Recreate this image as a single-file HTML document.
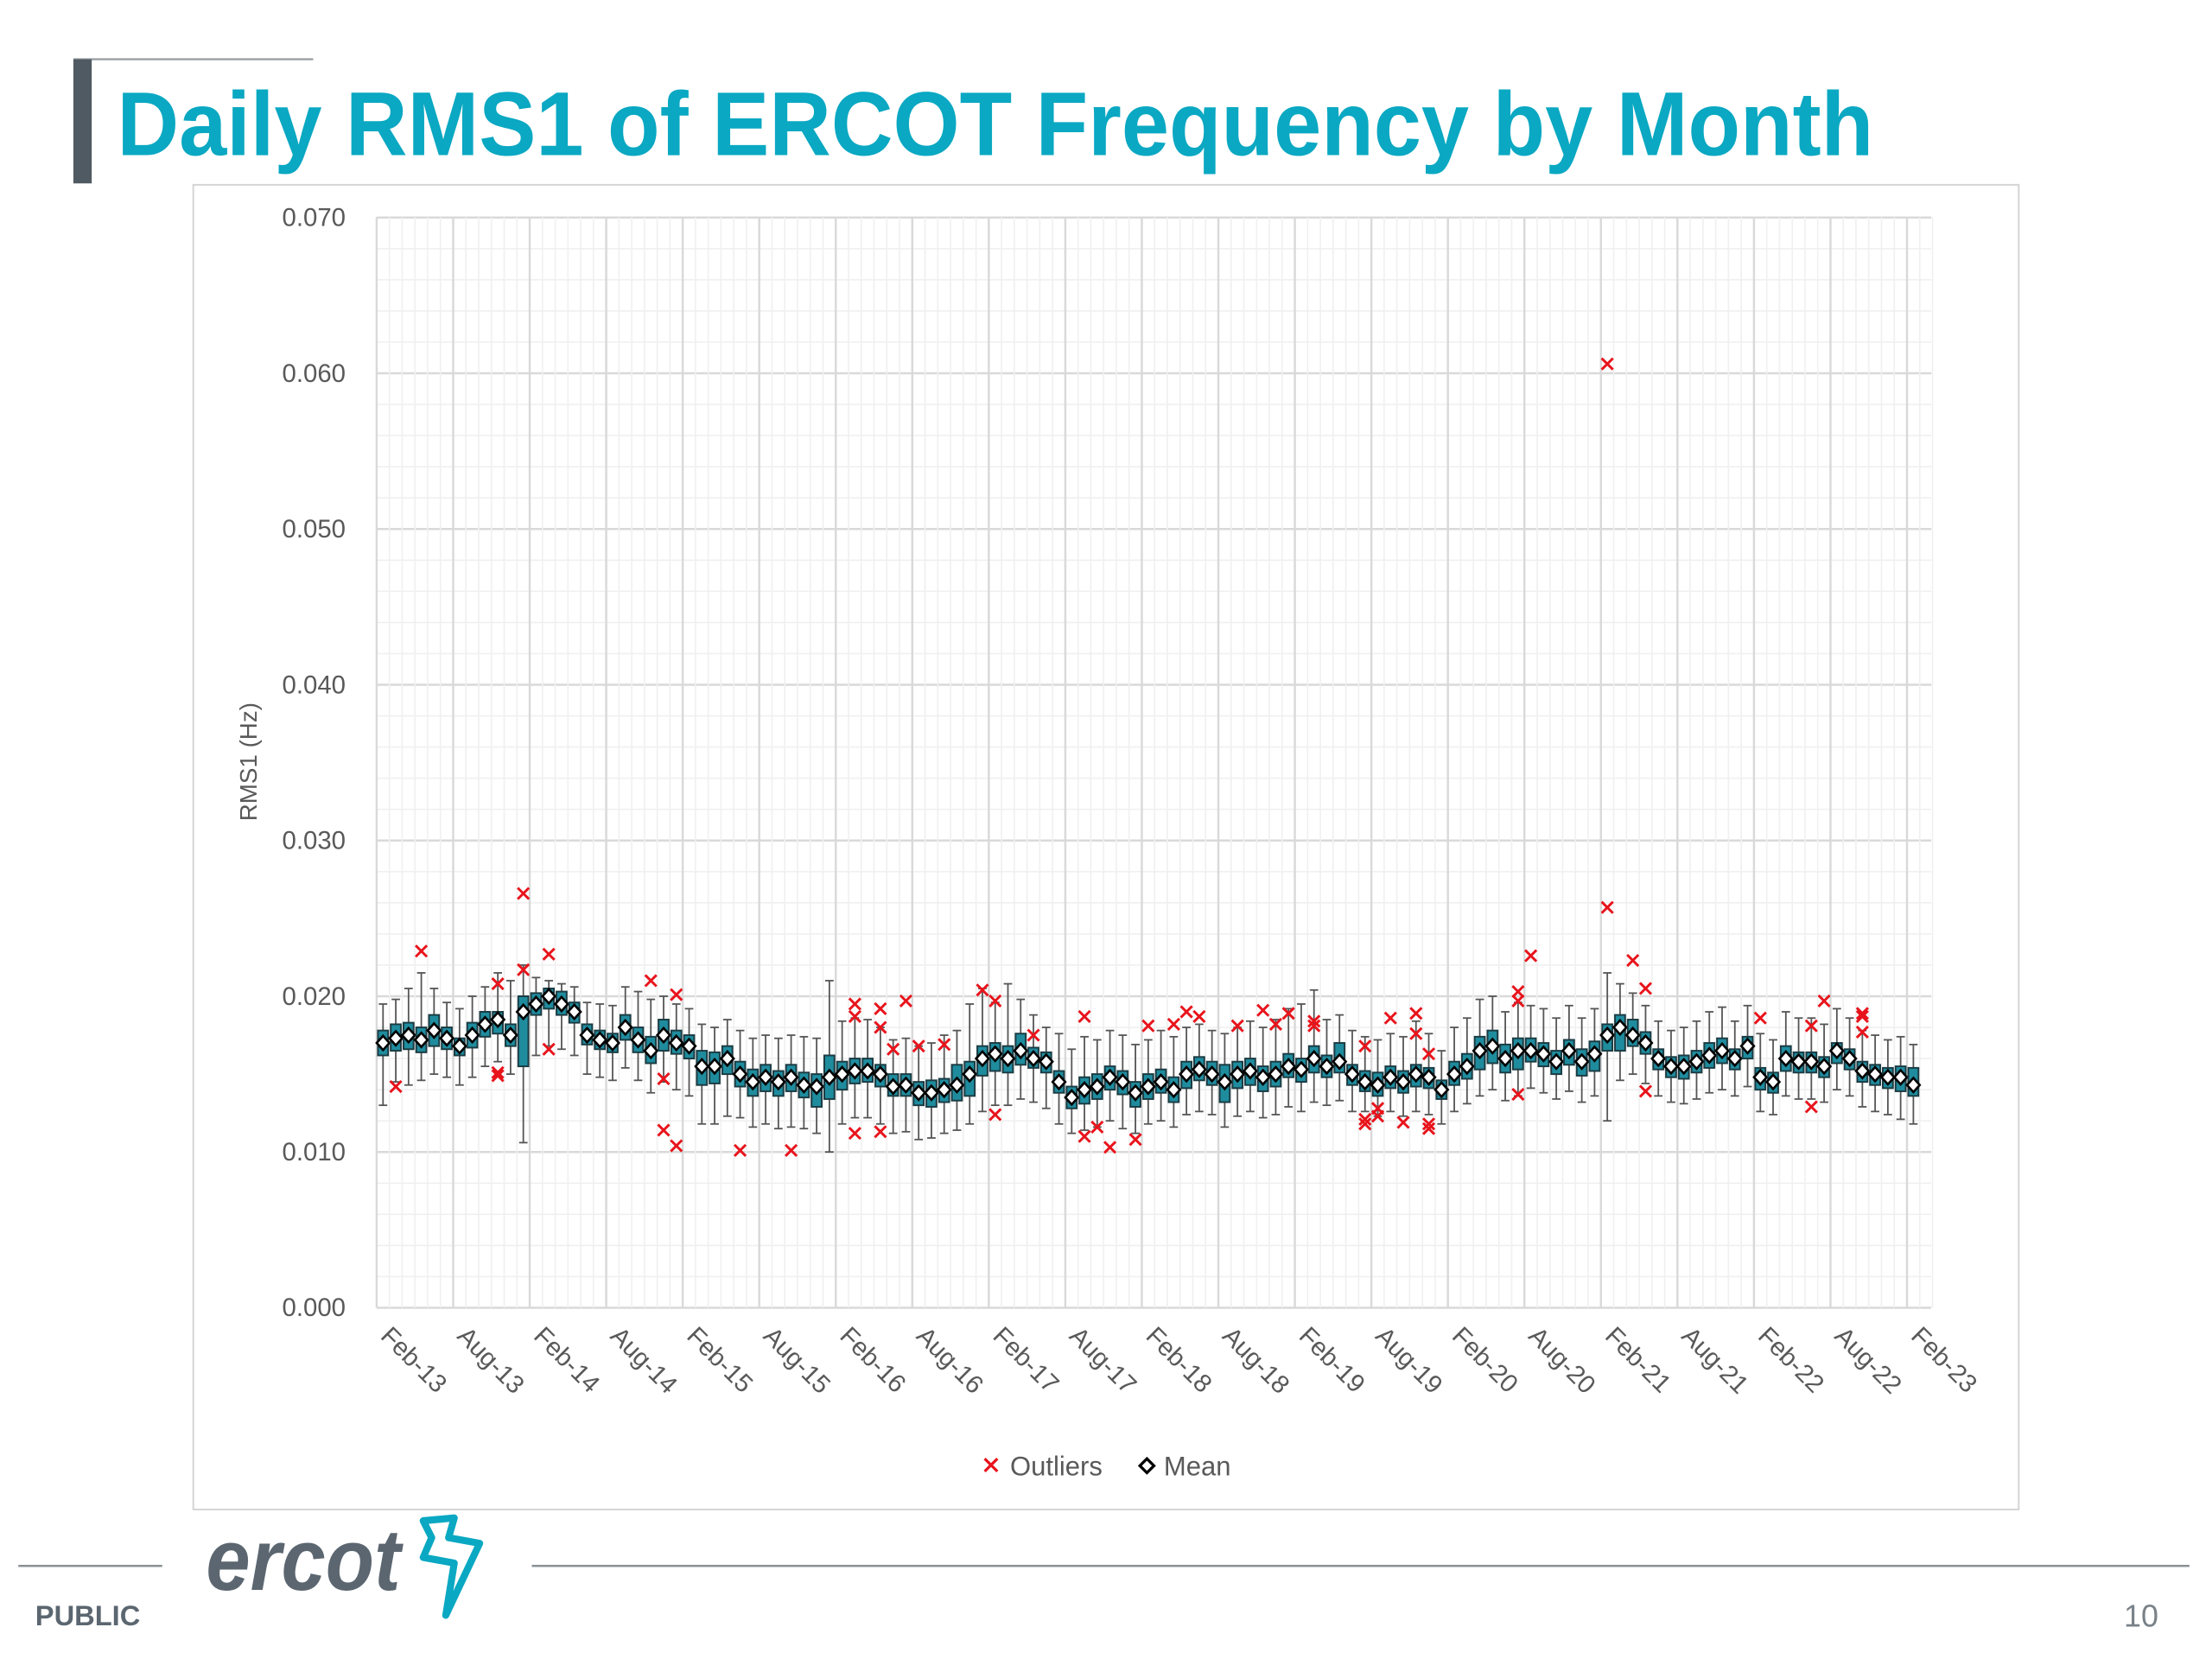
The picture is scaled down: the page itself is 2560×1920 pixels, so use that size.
<!DOCTYPE html>
<html><head><meta charset="utf-8"><style>
html,body{margin:0;padding:0;background:#fff}
svg{display:block}
text{font-family:"Liberation Sans",sans-serif}
</style></head><body>
<svg id="chart" width="2560" height="1920" viewBox="0 0 1568 1176" preserveAspectRatio="none" xmlns="http://www.w3.org/2000/svg">
<rect width="1568" height="1176" fill="#fff"/>
<line x1="52" y1="42" x2="222" y2="42" stroke="#9aa0a5" stroke-width="1.5"/>
<rect x="52" y="42" width="13" height="88" fill="#505a62"/>
<text x="83" y="110" font-size="64" font-weight="bold" fill="#0aa8c2" textLength="1245" lengthAdjust="spacingAndGlyphs">Daily RMS1 of ERCOT Frequency by Month</text>
<rect x="137" y="131" width="1294" height="939" fill="#fff" stroke="#d4d4d4" stroke-width="1.2"/>
<g id="grid"></g>
<g id="yaxis"></g>
<text transform="translate(182,540) rotate(-90)" text-anchor="middle" font-size="17" fill="#595959">RMS1 (Hz)</text>
<g id="xaxis"></g>
<g id="boxes"></g>
<g id="outl"></g>
<g>
 <g>
  <path d="M698,1034 l9,9 M707,1034 l-9,9" stroke="#e8141c" stroke-width="2"/>
  <text x="716" y="1046" font-size="19" fill="#595959">Outliers</text>
 </g>
 <g>
  <path d="M813,1034 l5,5 l-5,5 l-5,-5 z" fill="#fff" stroke="#000" stroke-width="2"/>
  <text x="825" y="1046" font-size="19" fill="#595959">Mean</text>
 </g>
</g>
<line x1="13" y1="1110" x2="115" y2="1110" stroke="#8a9096" stroke-width="1.5"/>
<line x1="377" y1="1110" x2="1552" y2="1110" stroke="#8a9096" stroke-width="1.5"/>
<text x="25" y="1152" font-size="20" font-weight="bold" fill="#5b6670">PUBLIC</text>
<text x="1530" y="1153" font-size="22" fill="#7a8288" text-anchor="end">10</text>
<g>
 <text x="146" y="1127" font-size="62" font-style="italic" font-weight="bold" fill="#5b6670" textLength="138" lengthAdjust="spacingAndGlyphs">ercot</text>
 <path d="M300,1078 L322,1076 L318,1090 L340,1094 L316,1145 L322,1108 L300,1104 L306,1090 Z" fill="none" stroke="#0aa8c2" stroke-width="5" stroke-linejoin="round"/>
</g>
</svg>
<script>
const yTicks=[0,10,20,30,40,50,60,70];
const yTickLabels=["0.000","0.010","0.020","0.030","0.040","0.050","0.060","0.070"];
const xTickLabels=["Feb-13","Aug-13","Feb-14","Aug-14","Feb-15","Aug-15","Feb-16","Aug-16","Feb-17","Aug-17","Feb-18","Aug-18","Feb-19","Aug-19","Feb-20","Aug-20","Feb-21","Aug-21","Feb-22","Aug-22","Feb-23"];
const meanVals=[17,17.3,17.5,17.2,17.8,17.3,16.8,17.5,18.2,18.5,17.5,19,19.5,20,19.5,19,17.5,17.2,17,18,17.2,16.5,17.5,17,16.8,15.5,15.5,16,15,14.5,14.8,14.5,14.8,14.3,14.2,14.8,15,15.2,15.2,15,14.2,14.3,13.8,13.8,14,14.3,15,16,16.3,16,16.5,16,15.8,14.5,13.5,14,14.2,14.8,14.5,13.8,14.2,14.5,14,15,15.3,15,14.5,15,15.2,14.8,15,15.5,15.3,16,15.5,15.8,15,14.5,14.3,14.8,14.5,15,14.8,14,15,15.5,16.5,16.8,16,16.5,16.5,16.3,15.8,16.5,15.8,16.3,17.5,18,17.5,17,16,15.5,15.5,15.8,16.2,16.5,16,16.8,14.8,14.5,16,15.8,15.8,15.5,16.5,16,15.2,15,14.8,14.8,14.3];
const q3Vals=[17.8,18.2,18.3,18,18.8,18,17.3,18.3,19,19,18.2,20,20.2,20.5,20.3,19.6,18.2,17.8,17.6,18.8,18,17.4,18.5,17.8,17.5,16.5,16.4,16.8,15.8,15.3,15.6,15.2,15.6,15.1,15,16.2,15.8,16,16,15.6,15,15,14.5,14.6,14.7,15.6,15.8,16.8,17,16.8,17.6,16.7,16.4,15.2,14.2,14.8,15,15.5,15.2,14.5,15,15.3,14.8,15.8,16.1,15.8,15.6,15.8,16,15.5,15.8,16.3,16,16.8,16.2,17,15.6,15.2,15.1,15.5,15.2,15.6,15.4,14.6,15.8,16.3,17.4,17.8,16.9,17.3,17.3,17,16.5,17.2,16.6,17.1,18.2,18.8,18.5,17.7,16.6,16.1,16.2,16.5,17,17.3,16.6,17.4,15.4,15.1,16.8,16.4,16.4,16.1,17,16.6,15.8,15.6,15.4,15.5,15.4];
const q1Vals=[16.2,16.5,16.6,16.4,16.8,16.6,16.2,16.7,17.4,17.6,16.8,15.5,18.8,19.2,18.8,18.3,16.9,16.6,16.4,17.2,16.4,15.7,16.5,16.3,16,14.3,14.4,15,14.2,13.6,13.9,13.6,13.9,13.5,12.9,13.4,14,14.4,14.5,14.2,13.6,13.6,13,12.9,13.2,13.3,13.6,14.9,15.2,15.1,15.6,15.4,15.1,13.8,12.8,13.1,13.4,14,13.7,12.9,13.4,13.8,13.2,14.1,14.6,14.3,13.2,14.1,14.3,13.9,14.2,14.8,14.5,15.1,14.8,15.1,14.3,13.9,13.6,14.1,13.8,14.2,14.1,13.4,14.3,14.7,15.3,15.7,15.1,15.3,15.8,15.5,15,15.6,14.9,15.2,16.5,16.5,16.8,16.3,15.3,14.8,14.7,15.1,15.4,15.7,15.3,16,14,13.8,15.2,15.1,15.1,14.8,15.7,15.3,14.5,14.3,14.1,13.9,13.6];
const hiVals=[19.5,19.8,20.5,21.5,20.5,19.6,19.2,20,20.6,21.5,21,22,21.2,21,20.8,20.6,19.6,19.5,19.4,20.6,20.3,19.8,20,19.5,19.2,18.2,18,18.5,17.8,17.3,17.5,17.3,17.5,17.4,17.3,21,18.4,18.6,18.5,18,17.2,17.3,16.8,17,17.5,17.8,19.5,20.5,19.6,20.8,19.8,18.8,18,17.6,16.6,17.4,17.2,17.8,17.5,16.9,17.2,17.8,17.4,18,18.2,17.8,17.6,18,18.4,18,18.5,19.2,19.5,20.4,18.5,18.8,17.8,17.4,17.2,17.6,17.4,18.4,17.6,16.5,18,18.6,19.8,20,19,19.6,19.4,19.2,18.6,19.4,18.6,19.2,21.5,20.8,20.2,19.4,18.4,17.8,18,18.4,19,19.3,18.4,19.4,17.6,17.2,19,18.6,18.6,18.2,19.2,18.6,17.8,17.5,17.2,17.4,16.9];
const loVals=[13,14.5,14.3,14.6,15,14.8,14.3,14.8,15.5,15.8,15,10.6,16.2,16.8,16.6,16.2,15,14.8,14.6,15.4,14.6,13.8,14.5,14,13.6,11.8,11.8,12.3,12.2,11.6,11.8,11.5,11.6,11.5,11.2,10,11.8,12.2,12.2,11.8,11.2,11.3,10.8,10.9,11.2,11.4,11.8,12.6,13,13,13.4,13.2,12.8,11.8,11.2,11.4,11.6,12,11.5,11.2,11.8,12,11.6,12.4,12.6,12.4,11.6,12.3,12.6,12.2,12.4,12.9,12.6,13.2,13,13.3,12.6,12.6,12.3,12.6,12.3,12.6,12.4,11.8,12.6,13.1,13.6,14,13.3,13.6,14.1,13.8,13.4,13.9,13.2,13.6,12,14.6,15,14.4,13.6,13.2,13.1,13.4,13.8,14,13.6,14.2,12.6,12.4,13.6,13.4,13.4,13.2,14,13.6,12.9,12.6,12.4,12.1,11.8];
const outlierMonth=[1,3,9,9,9,11,11,13,13,21,23,22,22,23,28,32,37,37,37,39,39,39,40,41,42,44,47,48,48,51,55,55,56,57,59,60,62,63,64,67,69,70,71,73,73,77,77,77,78,78,79,80,81,81,82,82,82,89,89,89,90,96,96,98,99,99,108,112,112,113,116,116,116];
const outlierVal=[14.2,22.9,20.8,14.9,15.1,26.6,21.7,22.7,16.6,21.0,20.1,14.7,11.4,10.4,10.1,10.1,19.5,18.7,11.2,19.2,18.0,11.3,16.6,19.7,16.8,16.9,20.4,19.7,12.4,17.5,18.7,11.0,11.6,10.3,10.8,18.1,18.2,19.0,18.7,18.1,19.1,18.2,18.9,18.4,18.1,16.8,12.1,11.8,12.8,12.3,18.6,11.9,18.9,17.6,11.8,11.5,16.3,20.3,19.7,13.7,22.6,60.6,25.7,22.3,20.5,13.9,18.6,18.1,12.9,19.7,18.9,18.7,17.7];

const NS="http://www.w3.org/2000/svg";
const X0=267,MW=9.04,Y0=927,YS=11.04,XR=1369,YT=154;
function xPos(i){return X0+(i+0.5)*MW;}
function yPos(v){return Y0-v*YS;}
function mk(tag,attrs,parent){const e=document.createElementNS(NS,tag);for(const k in attrs)e.setAttribute(k,attrs[k]);parent.appendChild(e);return e;}
const grid=document.getElementById('grid');
for(let v=0;v<=70;v+=2){
  const ln=mk('line',{x1:X0,x2:XR,y1:yPos(v),y2:yPos(v),stroke:v%10===0?'#d9d9d9':'#f0f0f0','stroke-width':v%10===0?1.5:1},grid);
  
  
}
for(let m=0;m<=122;m++){
  const major=m%6===0;
  const ln=mk('line',{x1:X0+m*MW,x2:X0+m*MW,y1:YT,y2:Y0,stroke:major?'#d9d9d9':'#f0f0f0','stroke-width':major?1.5:1},grid);
  
  
}
const ya=document.getElementById('yaxis');
yTicks.forEach((v,k)=>{
  const t=mk('text',{x:245,y:yPos(v)+6,'text-anchor':'end','font-size':18,fill:'#595959'},ya);
  t.textContent=yTickLabels[k];
  
  
});
const xa=document.getElementById('xaxis');
xTickLabels.forEach((s,k)=>{
  const x=X0+k*6*MW;
  const t=mk('text',{transform:`translate(${x+2},${948}) rotate(45)`,'font-size':18,fill:'#595959'},xa);
  t.textContent=s;
  
  
});
const bx=document.getElementById('boxes');
const n=Math.min(meanVals.length,q1Vals.length,q3Vals.length,hiVals.length,loVals.length);
for(let i=0;i<n;i++){
  const x=xPos(i);
  const g=mk('g',{},bx);
  
  
  mk('line',{x1:x,x2:x,y1:yPos(hiVals[i]),y2:yPos(loVals[i]),stroke:'#555','stroke-width':1.1},g);
  mk('line',{x1:x-3,x2:x+3,y1:yPos(hiVals[i]),y2:yPos(hiVals[i]),stroke:'#555','stroke-width':1.1},g);
  mk('line',{x1:x-3,x2:x+3,y1:yPos(loVals[i]),y2:yPos(loVals[i]),stroke:'#555','stroke-width':1.1},g);
  mk('rect',{x:x-3.6,y:yPos(q3Vals[i]),width:7.2,height:Math.max(1,yPos(q1Vals[i])-yPos(q3Vals[i])),fill:'#1f8c9e',stroke:'#1b3b42','stroke-width':1.2},g);
  const y=yPos(meanVals[i]);
  mk('path',{d:`M${x},${y-5} L${x+4.5},${y} L${x},${y+5} L${x-4.5},${y} Z`,fill:'#fff',stroke:'#000','stroke-width':1.6},g);
}
const og=document.getElementById('outl');
const no=Math.min(outlierMonth.length,outlierVal.length);
for(let k=0;k<no;k++){
  const x=xPos(outlierMonth[k]),y=yPos(outlierVal[k]);
  const p=mk('path',{d:`M${x-4},${y-4} L${x+4},${y+4} M${x+4},${y-4} L${x-4},${y+4}`,stroke:'#e8141c','stroke-width':1.8},og);
  
  
}
</script>
</body></html>
